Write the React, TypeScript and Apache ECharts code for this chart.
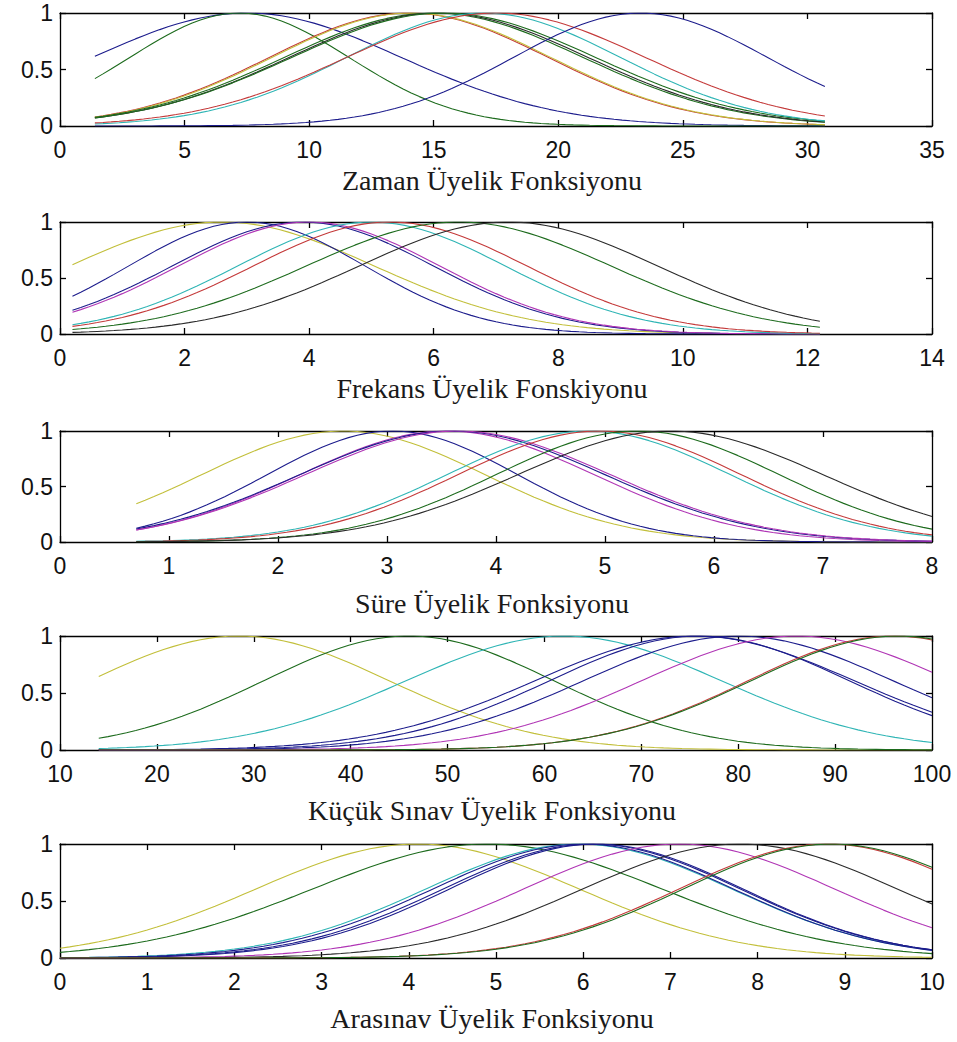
import React, { useEffect, useRef } from "react";
import * as echarts from "echarts";

// MATLAB-style line colours
const PALETTE: Record<string, string> = {
  b: "#1c1c8c",
  g: "#1d6b1d",
  r: "#c43a3a",
  c: "#2fb5b5",
  m: "#b035b5",
  y: "#c2bf3a",
  k: "#2a2a2a",
};

// Panel titles
const titles = [
  "Zaman Üyelik Fonksiyonu",
  "Frekans Üyelik Fonskiyonu",
  "Süre Üyelik Fonksiyonu",
  "Küçük Sınav Üyelik Fonksiyonu",
  "Arasınav Üyelik Fonksiyonu",
];

// x-axis ranges / tick steps
const axisMin = [0, 0, 0, 10, 0];
const axisMax = [35, 14, 8, 100, 10];
const axisStep = [5, 2, 1, 10, 1];
const yTicks = [0, 0.5, 1];

// data (universe of discourse) ranges per panel
const dataStart = [1.4, 0.2, 0.7, 14, 0];
const dataEnd = [30.7, 12.2, 8, 100, 10];

// Gaussian membership function parameters (center, sigma)
const zamanColors = ["b", "g", "r", "y", "g", "k", "g", "c", "r", "b"];
const zamanCenters = [7.5, 7.2, 14.0, 14.1, 15.0, 15.2, 15.4, 17.0, 17.5, 23.3];
const zamanSigmas = [6.2, 4.4, 5.6, 5.6, 6.0, 6.0, 6.1, 5.5, 6.0, 5.1];

const frekansColors = ["y", "b", "b", "m", "c", "r", "g", "k"];
const frekansCenters = [2.6, 3.0, 3.9, 4.0, 5.0, 5.3, 6.4, 7.2];
const frekansSigmas = [2.45, 1.9, 2.1, 2.1, 2.15, 2.2, 2.45, 2.4];

const sureColors = ["y", "b", "m", "b", "m", "c", "r", "g", "k"];
const sureCenters = [2.6, 3.05, 3.55, 3.6, 3.65, 4.85, 4.95, 5.3, 5.6];
const sureSigmas = [1.3, 1.15, 1.35, 1.4, 1.4, 1.3, 1.3, 1.3, 1.4];

const kucukColors = ["y", "g", "c", "b", "b", "b", "m", "r", "g"];
const kucukCenters = [28.5, 46, 62, 75.5, 76, 80, 86, 96, 96.5];
const kucukSigmas = [15.5, 15, 16.3, 16.5, 15.5, 16, 16, 15, 15.2];

const arasinavColors = ["y", "g", "c", "b", "b", "b", "m", "k", "r", "g"];
const arasinavCenters = [4.1, 4.9, 5.95, 6.0, 6.1, 6.15, 7.1, 7.8, 8.8, 8.85];
const arasinavSigmas = [1.85, 2.0, 1.75, 1.72, 1.7, 1.68, 1.78, 1.8, 1.7, 1.7];

const panelColors = [zamanColors, frekansColors, sureColors, kucukColors, arasinavColors];
const panelCenters = [zamanCenters, frekansCenters, sureCenters, kucukCenters, arasinavCenters];
const panelSigmas = [zamanSigmas, frekansSigmas, sureSigmas, kucukSigmas, arasinavSigmas];

// layout (page pixels)
const gridTops = [13, 222, 431, 636, 844];
const gridBottoms = [126, 334, 542, 750, 958];
const titleY = [180, 388, 603, 810, 1018];
const W = 957;
const H = 1042;
const GL = 60;
const GR = 932;

function gaussmf(x: number, c: number, s: number) {
  return Math.exp(-((x - c) * (x - c)) / (2 * s * s));
}

export default function App() {
  const ref = useRef<HTMLDivElement>(null);
  useEffect(() => {
    if (!ref.current) return;
    const chart = echarts.init(ref.current, undefined, { renderer: "svg" });
    const grid: any[] = [];
    const xAxis: any[] = [];
    const yAxis: any[] = [];
    const series: any[] = [];
    const graphic: any[] = [];
    const labelFont = { fontFamily: "Liberation Sans, Arial, sans-serif", fontSize: 23, color: "#111" };
    const axisLine = { show: true, onZero: false, lineStyle: { color: "#000", width: 1.3 } };
    const tick = { show: true, inside: true, length: 6, lineStyle: { color: "#000", width: 1.3 } };
    for (let p = 0; p < 5; p++) {
      grid.push({ left: GL, width: GR - GL, top: gridTops[p], height: gridBottoms[p] - gridTops[p] });
      xAxis.push({
        type: "value", gridIndex: p, position: "bottom", min: axisMin[p], max: axisMax[p], interval: axisStep[p],
        axisLine, axisTick: tick, splitLine: { show: false },
        axisLabel: { ...labelFont, margin: 12 },
      });
      xAxis.push({
        type: "value", gridIndex: p, position: "top", min: axisMin[p], max: axisMax[p], interval: axisStep[p],
        axisLine, axisTick: tick, splitLine: { show: false }, axisLabel: { show: false },
      });
      yAxis.push({
        type: "value", gridIndex: p, position: "left", min: yTicks[0], max: yTicks[2], interval: yTicks[1],
        axisLine, axisTick: tick, splitLine: { show: false },
        axisLabel: { ...labelFont, margin: 7 },
      });
      yAxis.push({
        type: "value", gridIndex: p, position: "right", min: yTicks[0], max: yTicks[2], interval: yTicks[1],
        axisLine, axisTick: tick, splitLine: { show: false }, axisLabel: { show: false },
      });
      const cols = panelColors[p];
      const cs = panelCenters[p];
      const ss = panelSigmas[p];
      const N = 90;
      for (let i = 0; i < cols.length; i++) {
        const data: number[][] = [];
        for (let k = 0; k <= N; k++) {
          const x = dataStart[p] + ((dataEnd[p] - dataStart[p]) * k) / N;
          data.push([x, gaussmf(x, cs[i], ss[i])]);
        }
        series.push({
          type: "line", xAxisIndex: 2 * p, yAxisIndex: 2 * p, data, showSymbol: false, silent: true,
          lineStyle: { color: PALETTE[cols[i]], width: 1.1 }, itemStyle: { color: PALETTE[cols[i]] },
        });
      }
      graphic.push({
        type: "text", x: (GL + GR) / 2 - 4, y: titleY[p],
        style: {
          text: titles[p], fill: "#1a1a1a", fontFamily: "Liberation Serif, Times New Roman, serif",
          fontSize: 28, textAlign: "center", textVerticalAlign: "middle",
        },
      });
    }
    chart.setOption({ animation: false, backgroundColor: "#fff", grid, xAxis, yAxis, series, graphic });
    return () => chart.dispose();
  }, []);
  return <div ref={ref} style={{ position: "absolute", left: 0, top: 0, width: W, height: H }} />;
}
